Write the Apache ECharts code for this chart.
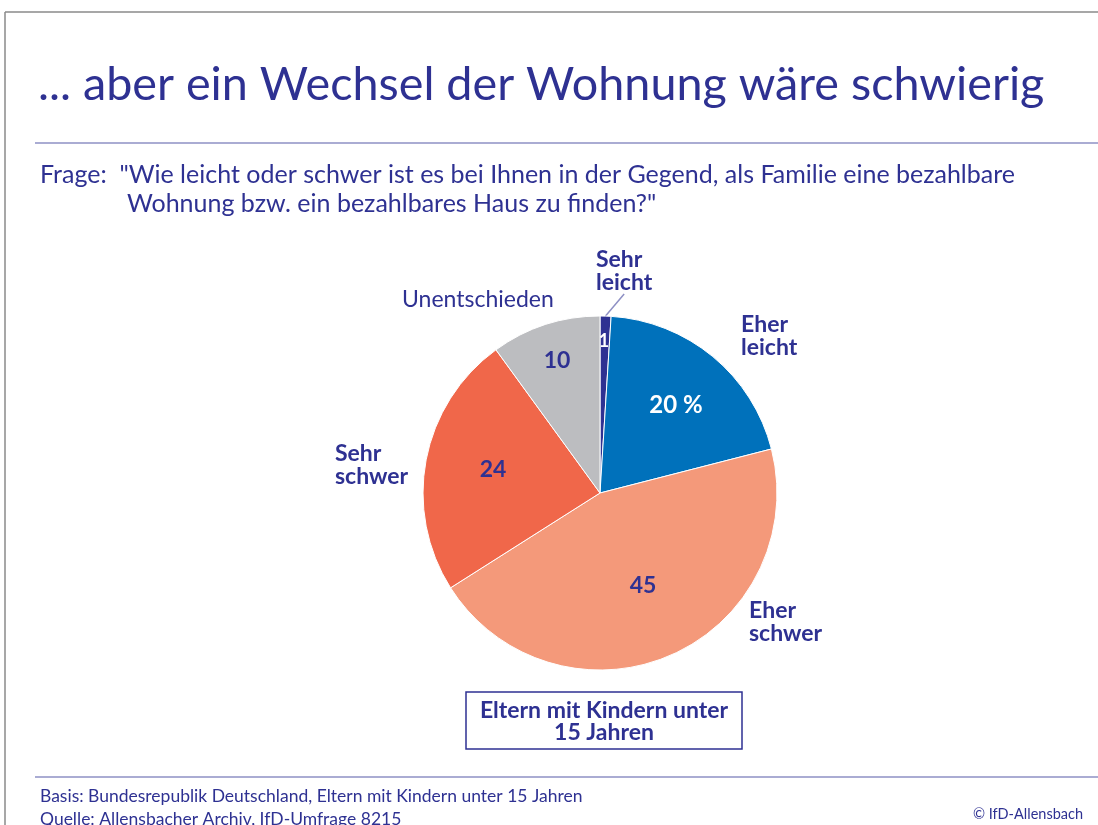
<!DOCTYPE html>
<html>
<head>
<meta charset="utf-8">
<script src="https://cdn.jsdelivr.net/npm/echarts@6/dist/echarts.min.js"></script>
<style>
  html, body { margin: 0; padding: 0; background: #fff; }
  #chart { width: 1098px; height: 825px; }
</style>
</head>
<body>
<div id="chart"></div>
<script>
const categories = ['Sehr leicht', 'Eher leicht', 'Eher schwer', 'Sehr schwer', 'Unentschieden'];
const values = [1, 20, 45, 24, 10];
const valueLabels = ['1', '20 %', '45', '24', '10'];
const sliceColors = ['#2e3192', '#0071bb', '#f4997a', '#f0674a', '#bcbdc0'];

const navy = '#2e3192';
const font = 'Lato';

// where the labels sit (label text, not the slices)
const innerPos = [[604, 341], [676, 405], [643, 586], [493, 470], [557, 361]];
const outerPos = [[596, 294], [741, 359], [749, 645], [335, 488], [402, 311]];

const chart = echarts.init(document.getElementById('chart'));

chart.setOption({
  backgroundColor: '#fff',
  animation: false,
  title: [
    {
      text: '... aber ein Wechsel der Wohnung wäre schwierig',
      left: 33, top: 56,
      textStyle: {color: navy, fontFamily: font, fontWeight: 'normal', fontSize: 46.7}
    },
    {
      text: 'Frage:  "Wie leicht oder schwer ist es bei Ihnen in der Gegend, als Familie eine bezahlbare',
      left: 35, top: 157,
      textStyle: {color: navy, fontFamily: font, fontWeight: 'normal', fontSize: 25}
    },
    {
      text: 'Wohnung bzw. ein bezahlbares Haus zu finden?"',
      left: 122, top: 186,
      textStyle: {color: navy, fontFamily: font, fontWeight: 'normal', fontSize: 25}
    },
    {
      text: 'Basis: Bundesrepublik Deutschland, Eltern mit Kindern unter 15 Jahren',
      left: 35, top: 782,
      textStyle: {color: navy, fontFamily: font, fontWeight: 'normal', fontSize: 17.5}
    },
    {
      text: 'Quelle: Allensbacher Archiv, IfD-Umfrage 8215',
      left: 35, top: 805,
      textStyle: {color: navy, fontFamily: font, fontWeight: 'normal', fontSize: 17.5}
    },
    {
      text: '© IfD-Allensbach',
      right: 10, top: 802,
      textStyle: {color: navy, fontFamily: font, fontWeight: 'normal', fontSize: 14.5}
    }
  ],
  graphic: [
    // outer frame
    {type: 'line', shape: {x1: 5, y1: 12, x2: 1098, y2: 12}, style: {stroke: '#8a8a8a', lineWidth: 1.5}},
    {type: 'line', shape: {x1: 5, y1: 12, x2: 5, y2: 825}, style: {stroke: '#8a8a8a', lineWidth: 1.5}},
    // rules
    {type: 'line', shape: {x1: 35, y1: 143, x2: 1098, y2: 143}, style: {stroke: '#8e90c4', lineWidth: 1.5}},
    {type: 'line', shape: {x1: 35, y1: 777, x2: 1098, y2: 777}, style: {stroke: '#8e90c4', lineWidth: 1.5}},
    // base box
    {
      type: 'rect',
      shape: {x: 466, y: 692, width: 276, height: 57},
      style: {fill: '#fff', stroke: navy, lineWidth: 1.5}
    },
    {
      type: 'text', x: 604, y: 722,
      style: {
        text: 'Eltern mit Kindern unter\n15 Jahren',
        fill: navy, font: 'bold 23px ' + font,
        align: 'center', verticalAlign: 'middle', lineHeight: 22
      }
    }
  ],
  series: [
    {
      // slices + values
      type: 'pie',
      center: [600, 493],
      radius: 177,
      startAngle: 90,
      clockwise: true,
      silent: true,
      itemStyle: {borderColor: '#fff', borderWidth: 1},
      data: categories.map((c, i) => ({
        name: c, value: values[i],
        itemStyle: {color: sliceColors[i]},
        label: {color: i < 2 ? '#fff' : navy, fontSize: i === 0 ? 18 : (i === 1 ? 24 : 23)}
      })),
      label: {
        show: true, position: 'inside',
        fontFamily: font, fontWeight: 'bold',
        formatter: p => valueLabels[p.dataIndex]
      },
      labelLine: {show: false},
      labelLayout: p => ({
        x: innerPos[p.dataIndex][0], y: innerPos[p.dataIndex][1],
        align: 'center', verticalAlign: 'middle'
      })
    },
    {
      // category names outside the pie
      type: 'pie',
      center: [600, 493],
      radius: 177,
      startAngle: 90,
      clockwise: true,
      silent: true,
      itemStyle: {color: 'rgba(0,0,0,0)'},
      data: categories.map((c, i) => ({
        name: c, value: values[i],
        label: {fontWeight: i === 4 ? 'normal' : 'bold', fontSize: 23},
        labelLine: {show: i === 0}
      })),
      label: {
        show: true, position: 'outside',
        color: navy, fontFamily: font, lineHeight: 23,
        formatter: p => p.name.replace(' ', '\n')
      },
      labelLine: {length: 20, length2: 0, lineStyle: {color: '#8e90c4', width: 1.5}},
      labelLayout: p => ({
        x: outerPos[p.dataIndex][0], y: outerPos[p.dataIndex][1],
        align: 'left', verticalAlign: 'bottom'
      })
    }
  ]
});
</script>
</body>
</html>
